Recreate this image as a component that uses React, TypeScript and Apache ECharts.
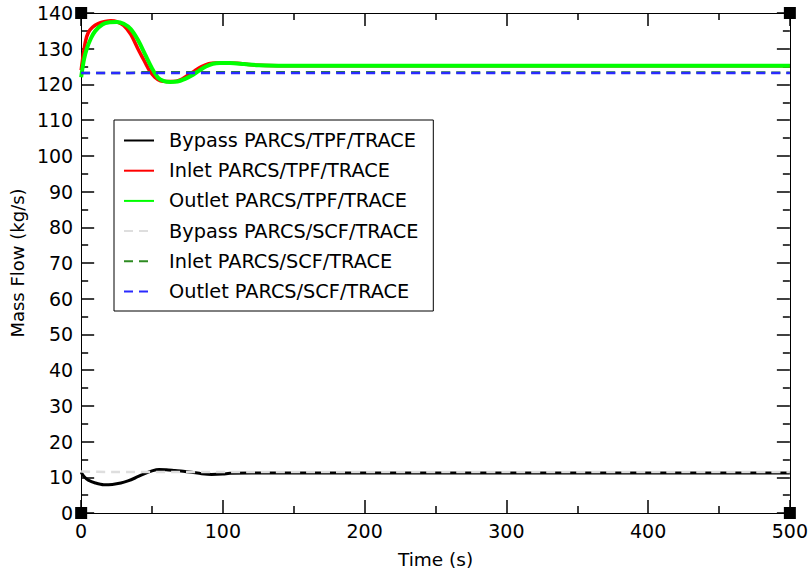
import React, { useEffect, useRef } from "react";
import * as echarts from "echarts";

const bypassTpfT = [0, 2, 5, 10, 16, 22, 28, 33, 38, 44, 50, 55, 60, 66, 72, 78, 85, 92, 100, 105, 120, 500];
const bypassTpfV = [11.4, 10.2, 9.2, 8.4, 7.9, 8.0, 8.4, 9.0, 9.8, 10.9, 11.8, 12.2, 12.1, 11.9, 11.7, 11.4, 11.0, 10.8, 10.9, 11.1, 11.2, 11.2];

const inletTpfT = [0, 1, 3, 5, 8, 12, 17, 21, 25, 30, 35, 40, 44, 48, 52, 56, 60, 65, 70, 75, 80, 85, 90, 95, 100, 110, 120, 130, 150, 500];
const inletTpfV = [124, 127, 132, 134.5, 136, 137, 137.6, 137.8, 137.6, 136.5, 134, 130, 127, 124, 122, 121, 120.8, 120.8, 121.3, 122.5, 123.8, 125, 125.8, 126, 126, 125.9, 125.5, 125.3, 125.2, 125.2];

const outletTpfT = [0, 2, 4, 7, 10, 15, 20, 25, 30, 35, 40, 45, 50, 54, 58, 63, 68, 73, 78, 83, 88, 93, 98, 105, 115, 125, 150, 500];
const outletTpfV = [122, 127, 130, 133, 135, 136.8, 137.4, 137.5, 137, 135.5, 132.5, 128.5, 124.5, 122, 121, 120.7, 120.8, 121.5, 122.5, 123.8, 125, 125.8, 126, 126, 125.7, 125.4, 125.2, 125.2];

const bypassScfT = [0, 20, 500];
const bypassScfV = [11.6, 11.5, 11.5];

const inletScfT = [0, 30, 45, 500];
const inletScfV = [123.2, 123.2, 123.4, 123.3];

const outletScfT = [0, 500];
const outletScfV = [123.2, 123.2];

const cornerPoints = [[0, 0], [0, 140], [500, 0], [500, 140]];

const xTicks = { min: 0, max: 500, interval: 100 };
const yTicks = { min: 0, max: 140, interval: 10 };

const zip = (t: number[], v: number[]) => t.map((x, i) => [x, v[i]]);

export default function App() {
  const ref = useRef<HTMLDivElement>(null);
  useEffect(() => {
    if (!ref.current) return;
    const chart = echarts.init(ref.current, null, { renderer: "svg" });
    const font = "DejaVu Sans";
    const axisCommon = {
      axisLine: { show: true, onZero: false, lineStyle: { color: "#000", width: 1 } },
      axisTick: { show: true, inside: true, length: 13, lineStyle: { color: "#000", width: 1.5 } },
      minorTick: { show: true, splitNumber: 2, length: 7, lineStyle: { color: "#000", width: 1.5 } },
      splitLine: { show: false },
    };
    const solid = (name: string, data: number[][], color: string, width: number) => ({
      name,
      type: "line",
      data,
      showSymbol: false,
      symbol: "circle",
      smooth: 0.3,
      lineStyle: { color, width, type: "solid" },
      itemStyle: { color },
    });
    const dashed = (name: string, data: number[][], color: string) => ({
      name,
      type: "line",
      data,
      showSymbol: false,
      symbol: "circle",
      smooth: 0.3,
      lineStyle: { color, width: 2.5, type: [9, 6] },
      itemStyle: { color },
    });
    chart.setOption({
      animation: false,
      backgroundColor: "#fff",
      textStyle: { fontFamily: font },
      grid: { left: 80, right: 15, top: 13, bottom: 60 },
      legend: {
        orient: "vertical",
        left: 114,
        top: 120,
        backgroundColor: "#fff",
        borderColor: "#000",
        borderWidth: 1,
        borderRadius: 0,
        padding: [11, 15, 10, 9],
        itemWidth: 30,
        itemHeight: 18,
        itemGap: 11.2,
        itemStyle: { opacity: 0 },
        textStyle: { fontFamily: font, fontSize: 19.3, lineHeight: 18, color: "#000", padding: [0, 0, 0, 10] },
        data: [
          "Bypass PARCS/TPF/TRACE",
          "Inlet PARCS/TPF/TRACE",
          "Outlet PARCS/TPF/TRACE",
          "Bypass PARCS/SCF/TRACE",
          "Inlet PARCS/SCF/TRACE",
          "Outlet PARCS/SCF/TRACE",
        ],
      },
      xAxis: [
        {
          type: "value",
          ...xTicks,
          ...axisCommon,
          name: "Time (s)",
          nameLocation: "middle",
          nameGap: 37,
          nameTextStyle: { fontFamily: font, fontSize: 18.5, color: "#000" },
          axisLabel: { fontFamily: font, fontSize: 19, color: "#000", margin: 8 },
        },
        {
          type: "value",
          position: "top",
          ...xTicks,
          ...axisCommon,
          axisLabel: { show: false },
        },
      ],
      yAxis: [
        {
          type: "value",
          ...yTicks,
          ...axisCommon,
          name: "Mass Flow (kg/s)",
          nameLocation: "middle",
          nameGap: 54,
          nameTextStyle: { fontFamily: font, fontSize: 18, color: "#000" },
          axisLabel: { fontFamily: font, fontSize: 19, color: "#000", margin: 8 },
        },
        {
          type: "value",
          position: "right",
          ...yTicks,
          ...axisCommon,
          axisLabel: { show: false },
        },
      ],
      series: [
        solid("Bypass PARCS/TPF/TRACE", zip(bypassTpfT, bypassTpfV), "#000000", 3),
        solid("Inlet PARCS/TPF/TRACE", zip(inletTpfT, inletTpfV), "#ff0000", 3.5),
        solid("Outlet PARCS/TPF/TRACE", zip(outletTpfT, outletTpfV), "#00ff00", 4),
        dashed("Bypass PARCS/SCF/TRACE", zip(bypassScfT, bypassScfV), "#dedede"),
        dashed("Inlet PARCS/SCF/TRACE", zip(inletScfT, inletScfV), "#2e8b22"),
        dashed("Outlet PARCS/SCF/TRACE", zip(outletScfT, outletScfV), "#2a2aff"),
        {
          name: "corners",
          type: "scatter",
          data: cornerPoints,
          symbol: "rect",
          symbolSize: 12,
          clip: false,
          itemStyle: { color: "#000", opacity: 1 },
          z: 10,
        },
      ],
    });
    return () => chart.dispose();
  }, []);
  return (
    <div
      ref={ref}
      style={{ position: "fixed", left: 0, top: 0, width: 811, height: 574 }}
    />
  );
}
